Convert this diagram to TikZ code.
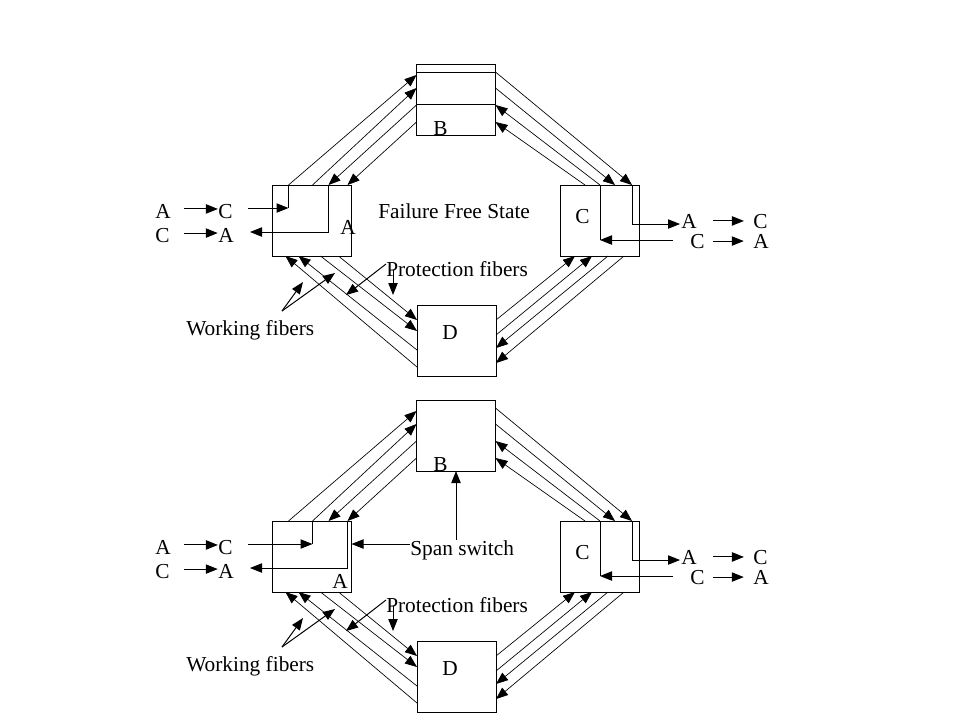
\documentclass[tikz,border=0pt]{standalone}
\usepackage{fontspec}
\setmainfont{Liberation Serif}
\usetikzlibrary{arrows.meta,calc}

\tikzset{
  box/.style={draw,line width=0.75pt,minimum width=59.25pt,minimum height=53.25pt,inner sep=0pt,outer sep=0pt},
  fiber/.style={line width=0.5pt},
  wire/.style={line width=0.75pt},
  tip/.style={-{Triangle[length=9pt,width=7pt]}},
  lbl/.style={inner sep=0pt,anchor=base west,font=\fontsize{16}{19}\selectfont},
}

% one ring of four nodes, #1 = vertical offset (px)
\newcommand\ringnet[1]{%
  \node[box] (A) at (312,220.5+#1) {};
  \node[box] (B) at (456,99.5+#1) {};
  \node[box] (C) at (599.5,220.5+#1) {};
  \node[box] (D) at (456.5,340.5+#1) {};
  % fiber end points
  \foreach \i/\x in {1/16,2/40,3/56,4/75} \coordinate (a\i) at ($(A.north west)+(\x,0)$);
  \foreach \i/\y in {1/11,2/24,3/41,4/58} \coordinate (ba\i) at ($(B.north west)+(0,\y)$);
  \foreach \i/\y in {1/8,2/24,3/41,4/58} \coordinate (bc\i) at ($(B.north east)+(0,\y)$);
  \foreach \i/\x in {1/72,2/55,3/40,4/25} \coordinate (c\i) at ($(C.north west)+(\x,0)$);
  \foreach \i/\x in {1/13,2/26,3/48,4/66} \coordinate (as\i) at ($(A.south west)+(\x,0)$);
  \foreach \i/\y in {1/62,2/45,3/26,4/15} \coordinate (da\i) at ($(D.north west)+(0,\y)$);
  \foreach \i/\y in {1/15,2/30,3/43,4/58} \coordinate (dc\i) at ($(D.north east)+(0,\y)$);
  \foreach \i/\x in {1/15,2/32,3/48,4/64} \coordinate (cs\i) at ($(C.south west)+(\x,0)$);
  % fibers
  \foreach \i in {1,2} {
    \draw[fiber,tip] (a\i) -- (ba\i);
    \draw[fiber,tip] (bc\i) -- (c\i);
    \draw[fiber,tip] (da\i) -- (as\i);
    \draw[fiber,tip] (dc\i) -- (cs\i);
  }
  \foreach \i in {3,4} {
    \draw[fiber,tip] (ba\i) -- (a\i);
    \draw[fiber,tip] (c\i) -- (bc\i);
    \draw[fiber,tip] (as\i) -- (da\i);
    \draw[fiber,tip] (cs\i) -- (dc\i);
  }
  % node letters
  \node[lbl] (bl) at (433,135+#1) {B};
  \node[lbl] (cl) at (575,223+#1) {C};
  \node[lbl] (dl) at (442,339+#1) {D};
  % traffic at A
  \node[lbl] (la1) at (155,218+#1) {A};
  \node[lbl] (lc1) at (218,218+#1) {C};
  \node[lbl] (lc2) at (155,242+#1) {C};
  \node[lbl] (la2) at (218,242+#1) {A};
  \draw[wire,tip] ($(la1.east)+(13,-2)$) -- ++(34,0);
  \draw[wire,tip] ($(lc2.east)+(14,-2)$) -- ++(34,0);
  % traffic at C
  \node[lbl] (ra1) at (681,228+#1) {A};
  \node[lbl] (rc1) at (753,228+#1) {C};
  \node[lbl] (rc2) at (690,248+#1) {C};
  \node[lbl] (ra2) at (753,248+#1) {A};
  \draw[wire,tip] ($(ra1.east)+(16,0)$) -- ++(31,0);
  \draw[wire,tip] ($(rc2.east)+(8,0)$) -- ++(31,0);
  \coordinate (Cout) at (680,224+#1);
  \coordinate (Cin) at (673,240+#1);
  \draw[wire,tip] (c1) |- (Cout);
  \draw[wire,tip] (Cin) -- (Cin -| c3);
  \draw[wire] (Cin -| c3) -- (c3);
  % fiber labels
  \node[lbl] (prot) at (386,276+#1) {Protection fibers};
  \draw[wire,tip] ($(prot.base west)+(0,-12)$) -- ++(-40,31);
  \draw[wire,tip] ($(prot.base west)+(7,-6)$) -- ++(0,25);
  \node[lbl] (work) at (186,335+#1) {Working fibers};
  \coordinate (wsrc) at ($(work.base west)+(96,-24)$);
  \draw[wire,tip] (wsrc) -- ++(21,-29);
  \draw[wire,tip] (wsrc) -- ++(53,-38);
}

\begin{document}
\begin{tikzpicture}[x=0.75pt,y=-0.75pt]
\fill[white] (0,0) rectangle (959,719);
\useasboundingbox (0,0) rectangle (959,719);

% failure free state
\ringnet{0}
\node[lbl] (state) at (378,218) {Failure Free State};
\node[lbl] (al) at (340,234) {A};
\draw[wire] ($(B.north west)+(0,8)$) -- ($(B.north east)+(0,8)$);
\draw[wire] ($(B.north west)+(0,40.5)$) -- ($(B.north east)+(0,40.5)$);
\coordinate (Ain) at (248,208);
\coordinate (Aout) at (250,232);
\draw[wire,tip] (Ain) -- (Ain -| a1);
\draw[wire] (Ain -| a1) -- (a1);
\draw[wire,tip] (a3) |- (Aout);

% span switch
\ringnet{336}
\node[lbl] (al) at (332,588) {A};
\node[lbl] (span) at (410,555) {Span switch};
\coordinate (Ain) at (248,544);
\coordinate (Aout) at (250,568);
\draw[wire,tip] (Ain) -- (Ain -| a2);
\draw[wire] (Ain -| a2) -- (a2);
\draw[wire,tip] (a4) |- (Aout);
\draw[wire,tip] (span.west |- Ain) -- (A.east |- Ain);
\draw[wire,tip] (span.north -| B.south) -- (B.south);
\end{tikzpicture}
\end{document}
